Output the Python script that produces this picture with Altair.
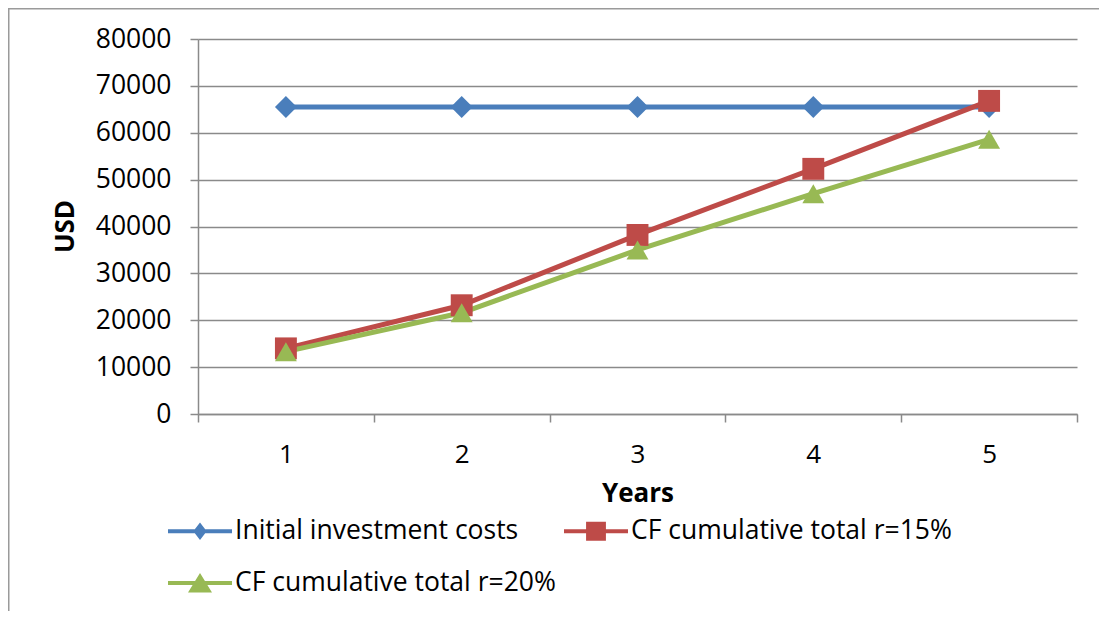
import altair as alt
import pandas as pd

years = [1, 2, 3, 4, 5]
series_names = ["Initial investment costs", "CF cumulative total r=15%", "CF cumulative total r=20%"]
initial_costs = [65500, 65500, 65500, 65500, 65500]
cf_r15 = [14000, 23200, 38200, 52300, 66800]
cf_r20 = [13300, 21600, 35000, 47000, 58600]
y_ticks = [0, 10000, 20000, 30000, 40000, 50000, 60000, 70000, 80000]

colors = ["#4A7EBB", "#BE4B48", "#98B954"]
marker_shapes = ["diamond", "square", "triangle-up"]
legend_shapes = [
    "M-2,-0.125H2V0.125H-2Z M0,-0.55L0.42,0L0,0.55L-0.42,0Z",
    "M-2,-0.125H2V0.125H-2Z M-0.62,-0.6H0.62V0.6H-0.62Z",
    "M-2,-0.125H2V0.125H-2Z M0,-0.62L0.75,0.6H-0.75Z",
]

rows = []
for name, vals in zip(series_names, [initial_costs, cf_r15, cf_r20]):
    for yr, v in zip(years, vals):
        rows.append({"Year": str(yr), "Series": name, "USD": v})
df = pd.DataFrame(rows)

FONT = "Open Sans"
GRID = "#8a8a8a"

x_enc = alt.X(
    "Year:O",
    bandPosition=0.5,
    scale=alt.Scale(type="band", paddingInner=0, paddingOuter=0),
    axis=alt.Axis(
        title="Years", tickBand="extent", labelAngle=0, grid=False,
        tickSize=8, labelPadding=19, titleY=79, titleBaseline="middle",
        labelFontSize=26,
    ),
)
y_enc = alt.Y(
    "USD:Q",
    scale=alt.Scale(domain=[0, 80000], nice=False),
    axis=alt.Axis(
        values=y_ticks, format="d", title="USD", grid=True,
        tickSize=8, labelPadding=19, titleX=-133, titleY=187,
        titleAngle=-90, titleBaseline="middle", titleAlign="center",
        labelFontSize=26.5,
    ),
)

line_layers = []
point_layers = []
for name, col, shp in zip(series_names, colors, marker_shapes):
    base = alt.Chart(df).transform_filter(alt.datum.Series == name)
    line_layers.append(base.mark_line(strokeWidth=5, color=col).encode(x=x_enc, y=y_enc))
    point_layers.append(
        base.mark_point(filled=True, opacity=1, size=480, shape=shp, color=col, strokeWidth=0)
        .encode(x=x_enc, y=y_enc)
    )

legend_props = dict(
    title=None, orient="none", legendX=-15, legendY=475, columns=2, direction="horizontal",
    symbolSize=1024, labelOffset=18,
    labelFont=FONT, labelFontSize=26.5, labelColor="#000000", labelLimit=600,
    rowPadding=21, columnPadding=8, padding=0,
)

legend_layer = alt.Chart(df).mark_point(filled=True, opacity=1, clip=True, size=1024).encode(
    x=x_enc,
    y=alt.value(-900),
    color=alt.Color("Series:N", scale=alt.Scale(domain=series_names, range=colors),
                    legend=alt.Legend(**legend_props)),
    shape=alt.Shape(
        "Series:N", scale=alt.Scale(domain=series_names, range=legend_shapes),
        legend=alt.Legend(**legend_props),
    ),
)

frame_data = pd.DataFrame({"k": [0]})
frame_left = alt.Chart(frame_data).mark_rule(color="#9a9a9a", strokeWidth=1.5).encode(
    x=alt.value(-189.25), y=alt.value(-31), y2=alt.value(600)
)
frame_top = alt.Chart(frame_data).mark_rule(color="#9a9a9a", strokeWidth=1.5).encode(
    x=alt.value(-190), x2=alt.value(920), y=alt.value(-30.25)
)

chart = alt.layer(*line_layers, *point_layers, legend_layer, frame_left, frame_top).properties(
    width=879, height=375,
    autosize=alt.AutoSizeParams(type="none"),
    padding={"left": 190, "top": 31, "right": 22, "bottom": 197},
).configure_view(
    strokeWidth=0
).configure_axis(
    labelFont=FONT, labelColor="#000000",
    titleFont=FONT, titleFontSize=26, titleColor="#000000", titleFontWeight="bold",
    domainColor=GRID, domainWidth=1.5, tickColor=GRID, tickWidth=1.5,
    gridColor=GRID, gridWidth=1.3, gridOpacity=1,
)

chart.save("out.html", embed_options={"renderer": "svg", "actions": False})
